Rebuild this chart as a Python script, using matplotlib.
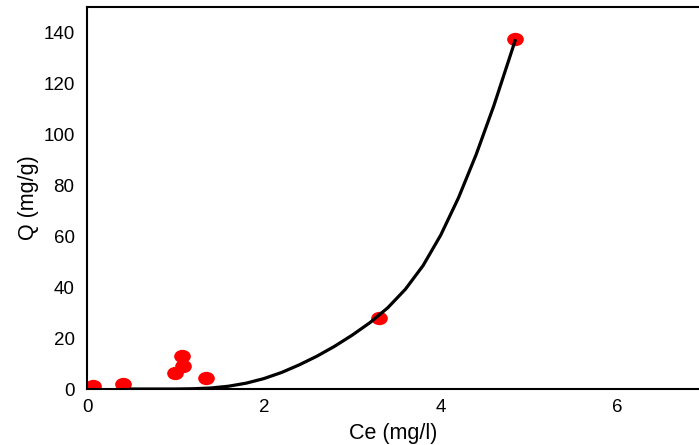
import matplotlib
matplotlib.use("Agg")
import matplotlib.pyplot as plt
from matplotlib.path import Path

plt.rcParams['font.family'] = ['Liberation Sans', 'DejaVu Sans']

# measured equilibrium data
ce = [0.07, 0.41, 1.00, 1.08, 1.07, 1.35, 3.30, 4.84]
q = [1.2, 2.0, 6.4, 9.0, 13.0, 4.4, 28.0, 137.6]

# fitted isotherm curve
fit_ce = [0.5, 1.0, 1.2, 1.4, 1.6, 1.8, 2.0, 2.2, 2.4, 2.6, 2.8, 3.0,
          3.2, 3.4, 3.6, 3.8, 4.0, 4.2, 4.4, 4.6, 4.8, 4.84]
fit_q = [0.0, 0.0, 0.1, 0.4, 1.1, 2.3, 4.1, 6.5, 9.5, 12.9, 16.8, 21.2,
         26.1, 31.9, 39.2, 48.5, 60.5, 75.1, 92.1, 111.3, 132.5, 136.8]

# slightly flattened dot
circ = Path.unit_circle()
dot = Path(circ.vertices * [1.25, 1.0], circ.codes)

fig = plt.figure(figsize=(6.99, 4.45), dpi=100)
ax = fig.add_axes([0.1245, 0.1258, 0.8755, 0.858])

ax.plot(fit_ce, fit_q, color='black', lw=2.3, zorder=2, solid_joinstyle='round')
ax.plot(ce, q, ls='none', marker=dot, color='#ff0000', ms=12, mec='none', zorder=1)

ax.set_xlim(0, 6.92)
ax.set_ylim(0, 150)
ax.set_xticks([0, 2, 4, 6])
ax.set_yticks(range(0, 141, 20))
ax.tick_params(length=0, labelsize=13.5)
ax.tick_params(axis='y', pad=9)
ax.tick_params(axis='x', pad=7)
ax.spines['right'].set_visible(False)
for s in ['left', 'bottom', 'top']:
    ax.spines[s].set_linewidth(1.5)

ax.set_xlabel('Ce (mg/l)', fontsize=15.5, labelpad=5)
ax.set_ylabel('Q (mg/g)', fontsize=15.5, labelpad=3)

fig.savefig('out.png', dpi=100)
